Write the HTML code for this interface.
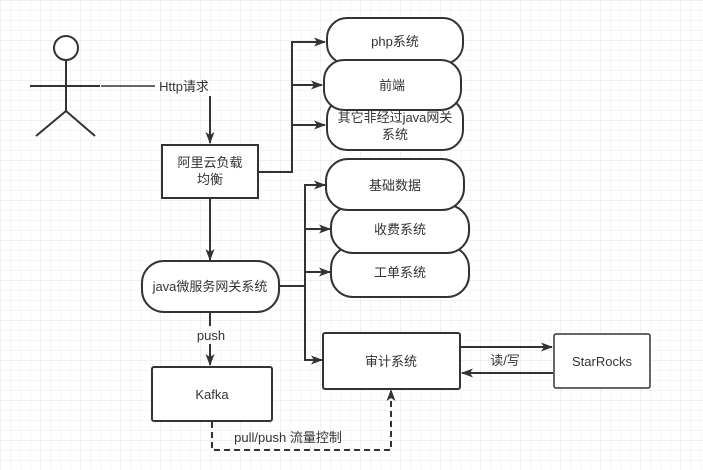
<!DOCTYPE html>
<html><head><meta charset="utf-8"><style>
body{margin:0;background:#fff}
svg{display:block;font-family:"Liberation Sans","Noto Sans CJK SC",sans-serif}
</style></head><body>
<svg width="703" height="470" xmlns="http://www.w3.org/2000/svg">
<defs>
<pattern id="g" width="10" height="10" patternUnits="userSpaceOnUse"><path d="M10 0H0V10" fill="none" stroke="#eeeeee" stroke-width="1"/></pattern>
<pattern id="G" width="40" height="40" patternUnits="userSpaceOnUse"><rect width="40" height="40" fill="url(#g)"/><path d="M40 0H0V40" fill="none" stroke="#e0e0e0" stroke-width="1"/></pattern>
<marker id="a" markerWidth="12" markerHeight="12" refX="11" refY="6" orient="auto" markerUnits="userSpaceOnUse"><path d="M0,1.5 L12,6 L0,10.5 L3,6z" fill="#333"/></marker>
</defs>
<rect width="703" height="470" fill="url(#G)"/>
<g stroke="#333" stroke-width="2" fill="none">
<circle cx="66" cy="48" r="12" fill="#fff"/>
<path d="M66 60V111M30 86H100M66 111L36 136M66 111L95 136"/>
<path d="M101 86H155" stroke-width="1.5"/>
<path d="M210 96V143" marker-end="url(#a)"/>
<path d="M258 172H292V42H325" marker-end="url(#a)"/>
<path d="M292 85H322" marker-end="url(#a)"/>
<path d="M292 125H325" marker-end="url(#a)"/>
<path d="M210 198V260" marker-end="url(#a)"/>
<path d="M279 286H305V185H325" marker-end="url(#a)"/>
<path d="M305 229H330" marker-end="url(#a)"/>
<path d="M305 272H330" marker-end="url(#a)"/>
<path d="M305 286V360H322" marker-end="url(#a)"/>
<path d="M210 312V326M210 344V365" marker-end="url(#a)"/>
<path d="M460 347H552" marker-end="url(#a)"/>
<path d="M553 373H462" marker-end="url(#a)"/>
<path d="M212 422V450H391V390" stroke-dasharray="6,4" marker-end="url(#a)"/>
</g>
<g stroke="#333" stroke-width="2" fill="#fff">
<rect x="327" y="18" width="136" height="46" rx="20"/>
<rect x="327" y="98" width="136" height="52" rx="20"/>
<rect x="324" y="60" width="137" height="50" rx="20"/>
<rect x="162" y="145" width="96" height="53"/>
<rect x="331" y="246" width="138" height="51" rx="22"/>
<rect x="331" y="205" width="138" height="48" rx="22"/>
<rect x="326" y="159" width="138" height="51" rx="22"/>
<rect x="142" y="261" width="137" height="51" rx="22"/>
<rect x="152" y="367" width="120" height="54" rx="2"/>
<rect x="323" y="333" width="137" height="56" rx="2"/>
<rect x="554" y="334" width="96" height="54" rx="2" stroke-width="1.5"/>
</g>
<g font-size="13" fill="#333" text-anchor="middle">
<text x="184" y="91">Http请求</text>
<text x="395" y="46">php系统</text>
<text x="392" y="90">前端</text>
<text x="395" y="122">其它非经过java网关</text>
<text x="395" y="139">系统</text>
<text x="210" y="167">阿里云负载</text>
<text x="210" y="184">均衡</text>
<text x="395" y="190">基础数据</text>
<text x="400" y="234">收费系统</text>
<text x="400" y="277">工单系统</text>
<text x="210" y="291">java微服务网关系统</text>
<text x="211" y="340">push</text>
<text x="212" y="399">Kafka</text>
<text x="391" y="366">审计系统</text>
<text x="505" y="365">读/写</text>
<text x="602" y="366">StarRocks</text>
<text x="288" y="442">pull/push  流量控制</text>
</g>
</svg>
</body></html>
